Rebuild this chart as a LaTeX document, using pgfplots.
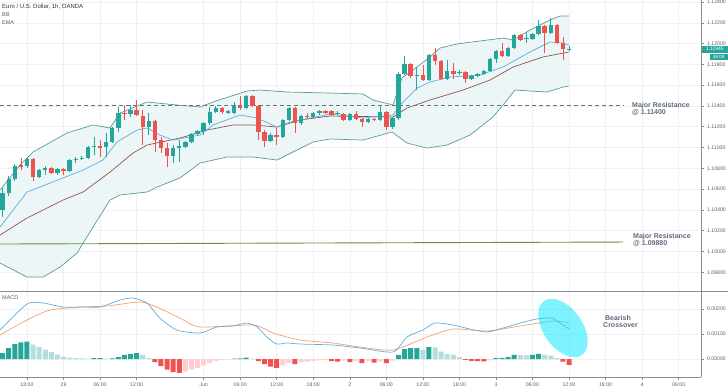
\documentclass[border=0pt]{standalone}
\usepackage{fontspec}
\setmainfont{Liberation Sans}
\usepackage{pgfplots}
\usepackage{pgfplotstable}
\pgfplotsset{compat=1.18}
\usepgfplotslibrary{fillbetween}
\definecolor{up}{HTML}{26A69A}
\definecolor{dn}{HTML}{EF5350}
\definecolor{uplt}{HTML}{B2DFDB}
\definecolor{dnlt}{HTML}{FFCDD2}
\definecolor{bbline}{HTML}{5B9A9E}
\definecolor{bbfill}{HTML}{EDF6F7}
\definecolor{emab}{HTML}{5DADE2}
\definecolor{emar}{HTML}{8E5450}
\definecolor{macdb}{HTML}{5DADE2}
\definecolor{macdo}{HTML}{F4A26B}
\definecolor{gridc}{HTML}{EEF0F4}
\definecolor{axc}{HTML}{8A8D96}
\definecolor{labc}{HTML}{5D606B}
\definecolor{annc}{HTML}{5E6B7A}
\definecolor{resg}{HTML}{6A8F45}
\definecolor{dashc}{HTML}{6E7079}
\definecolor{ellc}{HTML}{00E5FF}

\pgfplotstableread{
x o h l c
-4 1.10399 1.10610 1.10331 1.10562
-3 1.10562 1.10726 1.10533 1.10697
-2 1.10697 1.10841 1.10678 1.10822
0 1.10822 1.10909 1.10803 1.10889
2 1.10716 1.10793 1.10707 1.10784
3 1.10784 1.10822 1.10735 1.10803
5 1.10755 1.10803 1.10735 1.10793
7 1.10774 1.10889 1.10764 1.10880
8 1.10880 1.10909 1.10851 1.10889
9 1.10889 1.10918 1.10880 1.10899
10 1.10899 1.11014 1.10889 1.11005
11 1.11005 1.11101 1.10928 1.11014
13 1.11005 1.11140 1.10909 1.11053
14 1.11053 1.11197 1.11043 1.11188
15 1.11188 1.11390 1.11149 1.11332
17 1.11322 1.11409 1.11293 1.11361
20 1.11197 1.11332 1.11120 1.11255
24 1.10918 1.11024 1.10851 1.10995
25 1.10995 1.11072 1.10861 1.11014
26 1.11005 1.11063 1.10995 1.11053
27 1.11053 1.11140 1.11043 1.11130
28 1.11130 1.11168 1.11111 1.11159
29 1.11159 1.11245 1.11120 1.11236
30 1.11236 1.11390 1.11216 1.11342
31 1.11342 1.11399 1.11332 1.11380
33 1.11332 1.11361 1.11322 1.11351
34 1.11332 1.11438 1.11322 1.11409
36 1.11380 1.11505 1.11370 1.11495
40 1.11063 1.11140 1.11053 1.11120
42 1.11101 1.11274 1.11091 1.11265
43 1.11265 1.11390 1.11255 1.11380
45 1.11236 1.11313 1.11216 1.11303
47 1.11293 1.11342 1.11284 1.11332
48 1.11332 1.11361 1.11313 1.11351
51 1.11322 1.11351 1.11313 1.11332
53 1.11265 1.11332 1.11255 1.11322
56 1.11245 1.11284 1.11236 1.11274
58 1.11265 1.11399 1.11255 1.11342
60 1.11197 1.11293 1.11178 1.11284
61 1.11284 1.11726 1.11265 1.11707
62 1.11707 1.11880 1.11697 1.11803
64 1.11688 1.11774 1.11553 1.11697
66 1.11649 1.11900 1.11640 1.11890
69 1.11659 1.11842 1.11649 1.11736
71 1.11717 1.11746 1.11697 1.11726
73 1.11659 1.11697 1.11649 1.11688
74 1.11688 1.11717 1.11678 1.11707
75 1.11707 1.11746 1.11697 1.11736
76 1.11736 1.11861 1.11726 1.11851
77 1.11851 1.11938 1.11813 1.11928
79 1.11880 1.11967 1.11871 1.11957
80 1.11957 1.12092 1.11948 1.12082
82 1.12044 1.12111 1.12005 1.12053
83 1.12044 1.12102 1.12034 1.12092
84 1.12092 1.12227 1.12082 1.12169
86 1.12102 1.12246 1.12092 1.12178
89 1.11938 1.11976 1.11928 1.11945
}\gc

\pgfplotstableread{
x o h l c
-1 1.10832 1.10899 1.10784 1.10812
1 1.10889 1.10899 1.10678 1.10716
4 1.10803 1.10812 1.10745 1.10755
6 1.10793 1.10803 1.10735 1.10774
12 1.11014 1.11072 1.10909 1.10995
16 1.11332 1.11409 1.11265 1.11322
18 1.11361 1.11457 1.11303 1.11313
19 1.11303 1.11361 1.11024 1.11197
21 1.11255 1.11265 1.10957 1.11072
22 1.11072 1.11101 1.10947 1.10995
23 1.10995 1.11043 1.10812 1.10918
32 1.11380 1.11390 1.11322 1.11342
35 1.11399 1.11495 1.11361 1.11380
37 1.11495 1.11505 1.11390 1.11399
38 1.11399 1.11409 1.11072 1.11149
39 1.11149 1.11168 1.11005 1.11063
41 1.11120 1.11188 1.11024 1.11101
44 1.11380 1.11390 1.11140 1.11236
46 1.11303 1.11332 1.11274 1.11293
49 1.11351 1.11361 1.11322 1.11332
50 1.11351 1.11361 1.11303 1.11313
52 1.11322 1.11332 1.11255 1.11265
54 1.11322 1.11351 1.11265 1.11274
55 1.11274 1.11284 1.11197 1.11245
57 1.11274 1.11284 1.11255 1.11265
59 1.11342 1.11351 1.11168 1.11197
63 1.11803 1.11813 1.11669 1.11688
65 1.11697 1.11794 1.11640 1.11649
67 1.11890 1.11957 1.11794 1.11832
68 1.11832 1.11842 1.11649 1.11659
70 1.11736 1.11813 1.11659 1.11707
72 1.11726 1.11736 1.11621 1.11659
78 1.11928 1.12005 1.11871 1.11880
81 1.12082 1.12092 1.12025 1.12034
85 1.12169 1.12178 1.11909 1.12102
87 1.12178 1.12188 1.11996 1.12005
88 1.12005 1.12063 1.11842 1.11948
}\rc

\pgfplotstableread{
x y
-4.43 1.10591
-1.15 1.10832
0.99 1.10957
6.57 1.11140
10.84 1.11217
13.63 1.11188
15.27 1.11332
19.70 1.11438
24.63 1.11409
28.41 1.11390
30.54 1.11438
36.12 1.11544
38.26 1.11553
42.69 1.11534
49.75 1.11524
55.17 1.11515
56.81 1.11457
60.10 1.11409
61.58 1.11669
63.38 1.11746
66.17 1.11871
67.82 1.11957
70.61 1.11996
78.16 1.12053
79.80 1.12034
82.59 1.12130
85.88 1.12227
87.52 1.12265
89.00 1.12265
}\bbup

\pgfplotstableread{
x y
-4.43 1.09889
0 1.09754
2.63 1.09754
5.42 1.09850
8.21 1.09985
10.84 1.10235
13.63 1.10495
15.27 1.10543
18.06 1.10562
19.70 1.10572
21.35 1.10620
25.12 1.10707
28.41 1.10851
32.84 1.10909
37.11 1.10909
41.05 1.10880
43.68 1.10957
46.96 1.11053
49.75 1.11082
55.17 1.11072
59.93 1.11149
62.40 1.11043
65.68 1.10995
68.97 1.11024
72.74 1.11120
76.52 1.11294
78.16 1.11409
80.13 1.11553
82.59 1.11544
85.39 1.11534
88.01 1.11582
89.00 1.11592
}\bblow

\pgfplotstableread{
x y
-4.43 1.10235
0 1.10572
5.91 1.10707
9.20 1.10783
12.48 1.10880
14.78 1.11053
18.06 1.11168
19.70 1.11188
21.84 1.11120
23.97 1.11072
28.41 1.11120
30.54 1.11217
34.98 1.11313
37.77 1.11284
41.05 1.11197
43.19 1.11245
49.75 1.11322
55.17 1.11284
60.10 1.11313
61.58 1.11428
64.04 1.11572
66.17 1.11630
69.46 1.11678
74.38 1.11698
78.16 1.11774
82.59 1.11919
85.88 1.12015
88.01 1.12005
89.00 1.11986
}\emafast

\pgfplotstableread{
x y
-4.43 1.10158
0 1.10322
5.91 1.10495
9.20 1.10572
13.63 1.10764
17.41 1.10947
19.70 1.11024
25.12 1.11091
29.56 1.11168
33.83 1.11217
37.11 1.11217
41.05 1.11197
44.83 1.11265
49.75 1.11303
60.10 1.11294
62.40 1.11380
66.17 1.11457
71.59 1.11553
76.03 1.11649
79.80 1.11774
84.73 1.11871
89.00 1.11919
}\emaslow

\pgfplotstableread{
x y
-4 0.00024
-3 0.00044
-2 0.00060
-1 0.00067
0 0.00070
11 0.00004
12 0.00004
14 0.00003
15 0.00008
16 0.00017
17 0.00021
18 0.00024
34 0.00002
35 0.00003
36 0.00006
61 0.00017
62 0.00040
63 0.00044
64 0.00044
66 0.00048
77 0.00004
78 0.00005
79 0.00008
80 0.00017
83 0.00017
84 0.00021
}\hdark

\pgfplotstableread{
x y
1 0.00058
2 0.00048
3 0.00038
4 0.00028
5 0.00018
6 0.00010
7 0.00006
8 0.00004
9 0.00003
10 0.00002
13 0.00002
19 0.00017
20 0.00004
37 0.00002
65 0.00037
67 0.00047
68 0.00030
69 0.00020
70 0.00017
71 0.00008
81 0.00016
82 0.00015
85 0.00017
86 0.00014
87 0.00005
}\hlight

\pgfplotstableread{
x y
21 -0.00012
22 -0.00028
23 -0.00042
24 -0.00052
25 -0.00055
38 -0.00008
39 -0.00020
40 -0.00030
41 -0.00035
44 -0.00020
50 -0.00008
51 -0.00010
53 -0.00012
55 -0.00016
57 -0.00014
59 -0.00016
72 -0.00003
73 -0.00007
74 -0.00008
75 -0.00009
88 -0.00010
89 -0.00023
}\hred

\pgfplotstableread{
x y
26 -0.00050
27 -0.00042
28 -0.00035
29 -0.00025
30 -0.00015
31 -0.00008
32 -0.00004
33 -0.00001
42 -0.00025
43 -0.00015
45 -0.00012
46 -0.00010
47 -0.00007
48 -0.00005
49 -0.00004
52 -0.00006
54 -0.00008
56 -0.00008
58 -0.00010
60 -0.00006
76 -0.00005
}\hpink

\pgfplotstableread{
x y
-4.43 0.00116
0 0.00220
2.6 0.00224
5.9 0.00208
9.2 0.00208
12 0.00208
15.3 0.00236
17.4 0.00244
19.7 0.00224
21.8 0.00164
24.6 0.00116
28.4 0.00104
31.2 0.00128
33.8 0.00132
36.1 0.00144
37.8 0.00128
39.4 0.00088
41 0.00060
42.7 0.00064
44.8 0.00060
50.2 0.00056
54.7 0.00044
60.1 0.00028
62.4 0.00088
65 0.00116
67 0.00144
70 0.00136
72.7 0.00120
75.5 0.00108
78.2 0.00124
81 0.00144
83.7 0.00160
86.2 0.00164
87.5 0.00144
89 0.00120
}\macd

\pgfplotstableread{
x y
-4.43 0.00096
0 0.00156
3.8 0.00196
9.2 0.00208
13.1 0.00212
18.6 0.00228
21.3 0.00208
25.1 0.00164
28.4 0.00128
37.1 0.00136
40.4 0.00104
44.8 0.00076
50.2 0.00064
54.7 0.00048
60.1 0.00036
65.7 0.00088
70 0.00120
75.5 0.00112
81 0.00132
86.4 0.00152
89 0.00144
}\signal

\pgfplotsset{tvaxis/.style={
  scale only axis, width=701pt,
  xmin=-4.433, xmax=110.67,
  axis x line*=bottom, axis y line*=right,
  axis line style={draw=axc, line width=0.6pt},
  grid=major, major grid style={draw=gridc, line width=0.5pt},
  xtick={0,6,12,18,29,35,41,47,53,59,65,71,77,83,89,95,101,107},
  tick align=outside, major tick length=2.5pt,
  tick style={draw=axc, line width=0.5pt},
  tick label style={font=\fontsize{5.2}{6}\selectfont, text=labc},
  /pgf/number format/assume math mode=true,
  scaled y ticks=false, scaled x ticks=false,
}}
\pgfplotsset{
  wick/.style={draw=none, mark=none, forget plot,
    error bars/.cd, y dir=plus, y explicit, error mark=none,
    error bar style={draw=#1, line width=0.7pt}},
  body/.style={draw=none, mark=none, forget plot,
    error bars/.cd, y dir=plus, y explicit, error mark=none,
    error bar style={draw=#1, line width=4.4pt}},
}

\begin{document}
\begin{tikzpicture}
\begin{axis}[tvaxis, at={(0pt,0pt)}, anchor=north west, height=291pt,
  ymin=1.09620, ymax=1.12419,
  xticklabels={}, x tick style={draw=none},
  ytick={1.098,1.100,1.102,1.104,1.106,1.108,1.110,1.112,1.114,1.116,1.118,1.120,1.122,1.124},
  yticklabels={1.09800,1.10000,1.10200,1.10400,1.10600,1.10800,1.11000,1.11200,1.11400,1.11600,1.11800,1.12000,1.12200,1.12400},
]
\addplot[draw=none, name path=bbu, forget plot] table {\bbup};
\addplot[draw=none, name path=bbl, forget plot] table {\bblow};
\addplot[fill=bbfill, draw=none, forget plot] fill between[of=bbu and bbl];
\addplot[bbline, line width=0.7pt] table {\bbup};
\addplot[bbline, line width=0.7pt] table {\bblow};
\addplot[emar, line width=0.7pt] table {\emaslow};
\addplot[emab, line width=0.7pt] table {\emafast};

\addplot[dashc, dash pattern=on 4pt off 3pt, line width=0.8pt] coordinates {(-4.43,1.11405) (97.9,1.11405)};
\addplot[resg, line width=0.9pt] coordinates {(-4.43,1.10072) (97.9,1.10091)};

\addplot[wick=up] table[x=x, y=l, y error plus expr={\thisrow{h}-\thisrow{l}}] {\gc};
\addplot[body=up] table[x=x, y=o, y error plus expr={\thisrow{c}-\thisrow{o}}] {\gc};
\addplot[wick=dn] table[x=x, y=l, y error plus expr={\thisrow{h}-\thisrow{l}}] {\rc};
\addplot[body=dn] table[x=x, y=c, y error plus expr={\thisrow{o}-\thisrow{c}}] {\rc};
\end{axis}

\begin{axis}[tvaxis, at={(0pt,-291pt)}, anchor=north west, height=86pt,
  ymin=-0.00072, ymax=0.00272,
  xticklabels={18:00,29,06:00,12:00,Jun,06:00,12:00,18:00,2,06:00,12:00,18:00,3,06:00,12:00,18:00,4,06:00},
  ytick={0,0.001,0.002},
  yticklabels={0.00000,0.00100,0.00200},
]
\addplot[ybar, bar width=5pt, bar shift=0pt, fill=up, draw=none] table {\hdark};
\addplot[ybar, bar width=5pt, bar shift=0pt, fill=uplt, draw=none] table {\hlight};
\addplot[ybar, bar width=5pt, bar shift=0pt, fill=dn, draw=none] table {\hred};
\addplot[ybar, bar width=5pt, bar shift=0pt, fill=dnlt, draw=none] table {\hpink};
\addplot[macdo, line width=0.7pt, smooth, tension=0.4] table {\signal};
\addplot[macdb, line width=0.7pt, smooth, tension=0.4] table {\macd};
\end{axis}

\draw[axc, line width=0.6pt] (0pt,-291pt) -- (728pt,-291pt);

\fill[ellc, fill opacity=0.5, rotate around={-55:(563pt,-328pt)}] (563pt,-328pt) ellipse [x radius=33pt, y radius=19.5pt];

\node[anchor=west, inner sep=0pt, font=\fontsize{6}{7}\selectfont, text=black!80] at (2pt,-7pt) {Euro / U.S. Dollar, 1h, OANDA};
\node[anchor=west, inner sep=0pt, font=\fontsize{5.5}{6}\selectfont, text=labc] at (2pt,-15pt) {BB};
\node[anchor=west, inner sep=0pt, font=\fontsize{5.5}{6}\selectfont, text=labc] at (2pt,-23pt) {EMA};
\node[anchor=west, inner sep=0pt, font=\fontsize{5.5}{6}\selectfont, text=labc] at (2pt,-298pt) {MACD};

\node[anchor=north west, align=left, inner sep=0pt, font=\bfseries\fontsize{7}{7.4}\selectfont, text=annc] at (632pt,-102pt) {Major Resistance\\@ 1.11400};
\node[anchor=north west, align=left, inner sep=0pt, font=\bfseries\fontsize{7}{7.4}\selectfont, text=annc] at (633pt,-233pt) {Major Resistance\\@ 1.09880};
\node[anchor=north west, align=left, inner sep=0pt, font=\bfseries\fontsize{7}{7.4}\selectfont, text=annc] at (603pt,-315pt) {\ Bearish\\Crossover};

\node[anchor=east, fill=up, text=white, inner sep=0.8pt, minimum width=26pt, minimum height=7pt, font=\fontsize{5}{5}\selectfont] at (728pt,-49pt) {1.11945};
\node[anchor=east, fill=up, text=white, inner sep=0.5pt, minimum width=18pt, minimum height=6pt, font=\fontsize{4.5}{5}\selectfont] at (728pt,-56.5pt) {46:08};

\pgfresetboundingbox
\path (0pt,0pt) rectangle (728pt,-391pt);
\end{tikzpicture}
\end{document}
